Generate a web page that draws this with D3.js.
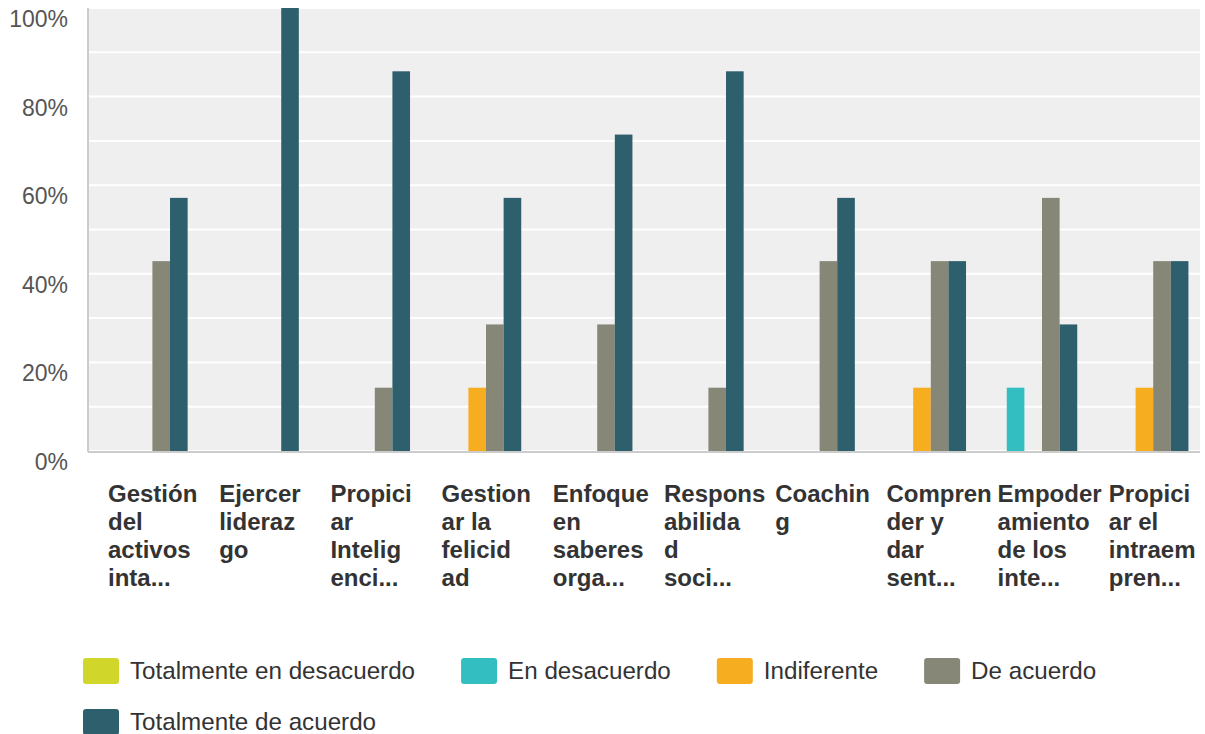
<!DOCTYPE html>
<html>
<head>
<meta charset="utf-8">
<script src="https://cdn.jsdelivr.net/npm/d3@7"></script>
<style>
  body { margin: 0; background: #fff; }
  text { font-family: "Liberation Sans", Arial, Helvetica, sans-serif; }
</style>
</head>
<body>
<svg id="chart" width="1205" height="734"></svg>
<script>
// categories (wrapped tick labels as shown)
var categories = [
  ["Gestión", "del", "activos", "inta..."],
  ["Ejercer", "lideraz", "go"],
  ["Propici", "ar", "Intelig", "enci..."],
  ["Gestion", "ar la", "felicid", "ad"],
  ["Enfoque", "en", "saberes", "orga..."],
  ["Respons", "abilida", "d", "soci..."],
  ["Coachin", "g"],
  ["Compren", "der y", "dar", "sent..."],
  ["Empoder", "amiento", "de los", "inte..."],
  ["Propici", "ar el", "intraem", "pren..."]
];

var seriesNames = ["Totalmente en desacuerdo", "En desacuerdo", "Indiferente", "De acuerdo", "Totalmente de acuerdo"];
var seriesColors = ["#d1d62a", "#33bfc1", "#f6ae20", "#878778", "#2d5f6c"];

// percentage per category, one array per series
var totDesacuerdo = [0, 0, 0, 0, 0, 0, 0, 0, 0, 0];
var enDesacuerdo  = [0, 0, 0, 0, 0, 0, 0, 0, 14.29, 0];
var indiferente   = [0, 0, 0, 14.29, 0, 0, 0, 14.29, 0, 14.29];
var deAcuerdo     = [42.86, 0, 14.29, 28.57, 28.57, 14.29, 42.86, 42.86, 57.14, 42.86];
var totAcuerdo    = [57.14, 100, 85.71, 57.14, 71.43, 85.71, 57.14, 42.86, 28.57, 42.86];

var yTicks = [0, 20, 40, 60, 80, 100];
var gridTicks = [0, 10, 20, 30, 40, 50, 60, 70, 80, 90, 100];

var allSeries = [totDesacuerdo, enDesacuerdo, indiferente, deAcuerdo, totAcuerdo];

var svg = d3.select("svg#chart"),
    plotLeft = 88, plotRight = 1200, plotTop = 8, plotBottom = 451;

var x0 = d3.scaleBand()
    .domain(d3.range(categories.length))
    .range([plotLeft, plotRight]);

var pad = x0.bandwidth() * 0.104;
var x1 = d3.scaleBand()
    .domain(d3.range(seriesNames.length))
    .range([pad, x0.bandwidth() - pad]);

var y = d3.scaleLinear()
    .domain([0, 100])
    .range([plotBottom, plotTop]);

// plot background
svg.append("rect")
    .attr("x", plotLeft).attr("y", plotTop)
    .attr("width", plotRight - plotLeft).attr("height", plotBottom - plotTop)
    .attr("fill", "#efefef");

svg.append("g").selectAll("line")
  .data(gridTicks)
  .enter().append("line")
    .attr("x1", plotLeft).attr("x2", plotRight)
    .attr("y1", function(d) { return y(d); })
    .attr("y2", function(d) { return y(d); })
    .attr("stroke", "#fff")
    .attr("stroke-width", 2);

// y labels
svg.append("g").selectAll("text")
  .data(yTicks)
  .enter().append("text")
    .attr("x", 68)
    .attr("y", function(d) { return y(d) + 19; })
    .attr("text-anchor", "end")
    .attr("fill", "#555")
    .style("font-size", "23px")
    .text(function(d) { return d + "%"; });

// bars
var groups = svg.append("g").selectAll("g")
  .data(categories)
  .enter().append("g")
    .attr("transform", function(d, i) { return "translate(" + x0(i) + ",0)"; });

groups.selectAll("rect")
  .data(function(d, i) { return allSeries.map(function(s, k) { return {k: k, v: s[i]}; }); })
  .enter().append("rect")
    .filter(function(d) { return d.v > 0; })
    .attr("x", function(d) { return x1(d.k); })
    .attr("y", function(d) { return y(d.v); })
    .attr("width", x1.bandwidth())
    .attr("height", function(d) { return plotBottom - y(d.v); })
    .attr("fill", function(d) { return seriesColors[d.k]; });

// axes border
svg.append("line")
    .attr("x1", plotLeft).attr("x2", plotLeft).attr("y1", plotTop).attr("y2", plotBottom + 1)
    .attr("stroke", "#ccc").attr("stroke-width", 2);
svg.append("line")
    .attr("x1", plotLeft).attr("x2", plotRight).attr("y1", plotBottom + 1).attr("y2", plotBottom + 1)
    .attr("stroke", "#ccc").attr("stroke-width", 2);

// category labels
var labels = svg.append("g").selectAll("text")
  .data(categories)
  .enter().append("text")
    .attr("x", function(d, i) { return x0(i) + 20; })
    .attr("y", 502)
    .attr("fill", "#333")
    .style("font-size", "24px")
    .style("font-weight", "bold");

labels.selectAll("tspan")
  .data(function(d) { return d; })
  .enter().append("tspan")
    .attr("x", function() { return d3.select(this.parentNode).attr("x"); })
    .attr("dy", function(d, i) { return i ? 28 : 0; })
    .text(function(d) { return d; });

// legend
var legend = svg.append("g");
var lx = 83, ly = 671;
seriesNames.forEach(function(name, k) {
  var item = legend.append("g");
  item.append("rect")
      .attr("width", 36).attr("height", 26)
      .attr("rx", 3)
      .attr("y", -13)
      .attr("fill", seriesColors[k]);
  var t = item.append("text")
      .attr("x", 47)
      .attr("dy", "0.35em")
      .attr("fill", "#333")
      .style("font-size", "24.2px")
      .text(name);
  var w = 47 + t.node().getComputedTextLength();
  if (lx + w > 1150) { lx = 83; ly += 51; }
  item.attr("transform", "translate(" + lx + "," + ly + ")");
  lx += w + 46;
});
</script>
</body>
</html>
